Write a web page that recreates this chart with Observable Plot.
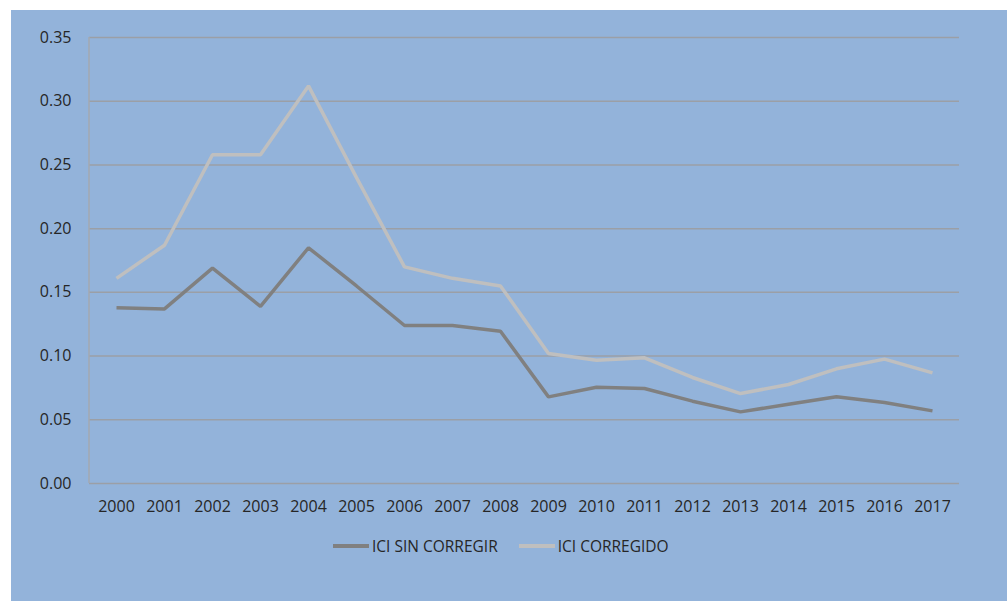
<!DOCTYPE html>
<html>
<head>
<meta charset="utf-8">
<script src="https://cdn.jsdelivr.net/npm/d3@7"></script>
<script src="https://cdn.jsdelivr.net/npm/@observablehq/plot@0.6"></script>
<style>
  html, body { margin: 0; padding: 0; background: #ffffff; }
  #panel { position: absolute; left: 11px; top: 10px; width: 996px; height: 591px; background: #93b3da; overflow: hidden; }
  #chart { position: absolute; left: 0; top: 0; }
  #legend { position: absolute; left: 322px; top: 525px; display: flex; align-items: center; font-family: "Open Sans", sans-serif; font-size: 15.5px; color: #262626; }
  .item { display: flex; align-items: center; margin-right: 21px; }
  .sw { width: 36px; height: 3.5px; margin-right: 3px; }
</style>
</head>
<body>
<div id="panel">
  <div id="chart"></div>
  <div id="legend"></div>
</div>
<script>
const years = ["2000","2001","2002","2003","2004","2005","2006","2007","2008","2009","2010","2011","2012","2013","2014","2015","2016","2017"];
const iciSinCorregir = [0.138,0.137,0.169,0.139,0.185,0.155,0.124,0.124,0.1195,0.068,0.0755,0.0746,0.0646,0.0562,0.0622,0.068,0.0636,0.057];
const iciCorregido = [0.161,0.187,0.258,0.258,0.312,0.240,0.170,0.161,0.155,0.102,0.0968,0.0986,0.0832,0.0706,0.0777,0.090,0.0976,0.0868];
const yTicks = [0,0.05,0.10,0.15,0.20,0.25,0.30,0.35];
const seriesNames = ["ICI SIN CORREGIR","ICI CORREGIDO"];
const seriesColors = ["#808080","#bfbfbf"];

const rows = [];
years.forEach((y, i) => {
  rows.push({year: y, value: iciSinCorregir[i], series: seriesNames[0]});
  rows.push({year: y, value: iciCorregido[i], series: seriesNames[1]});
});

const leftAxisLine = (index, scales, values, dims) => {
  const g = d3.create("svg:g");
  g.append("line")
    .attr("x1", dims.marginLeft).attr("x2", dims.marginLeft)
    .attr("y1", scales.y(0.35)).attr("y2", scales.y(0))
    .attr("stroke", "#a3a8b0").attr("stroke-width", 1.5);
  return g.node();
};

const chart = Plot.plot({
  width: 996,
  height: 520,
  marginLeft: 78,
  marginRight: 48,
  marginTop: 27,
  marginBottom: 47,
  style: { background: "transparent", fontFamily: "Open Sans, sans-serif", fontSize: "16px", color: "#262626" },
  x: { type: "point", domain: years, padding: 0.5, label: null },
  y: { domain: [0, 0.35], label: null },
  color: { domain: seriesNames, range: seriesColors },
  marks: [
    Plot.ruleY(yTicks, { stroke: "#9b9fa6", strokeWidth: 1.5 }),
    leftAxisLine,
    Plot.axisY(yTicks, { tickFormat: d3.format(".2f"), tickSize: 0, tickPadding: 18, label: null, fill: "#262626", fontSize: 16 }),
    Plot.axisX({ tickSize: 0, tickPadding: 17, label: null, fill: "#262626", fontSize: 16 }),
    Plot.line(rows, { x: "year", y: "value", z: "series", stroke: "series", strokeWidth: 3.5, strokeLinejoin: "miter", strokeLinecap: "butt" })
  ]
});
document.getElementById("chart").appendChild(chart);

const legend = document.getElementById("legend");
seriesNames.forEach((name, i) => {
  const item = document.createElement("div");
  item.className = "item";
  const sw = document.createElement("div");
  sw.className = "sw";
  sw.style.background = seriesColors[i];
  const label = document.createElement("span");
  label.textContent = name;
  item.appendChild(sw);
  item.appendChild(label);
  legend.appendChild(item);
});
</script>
</body>
</html>
